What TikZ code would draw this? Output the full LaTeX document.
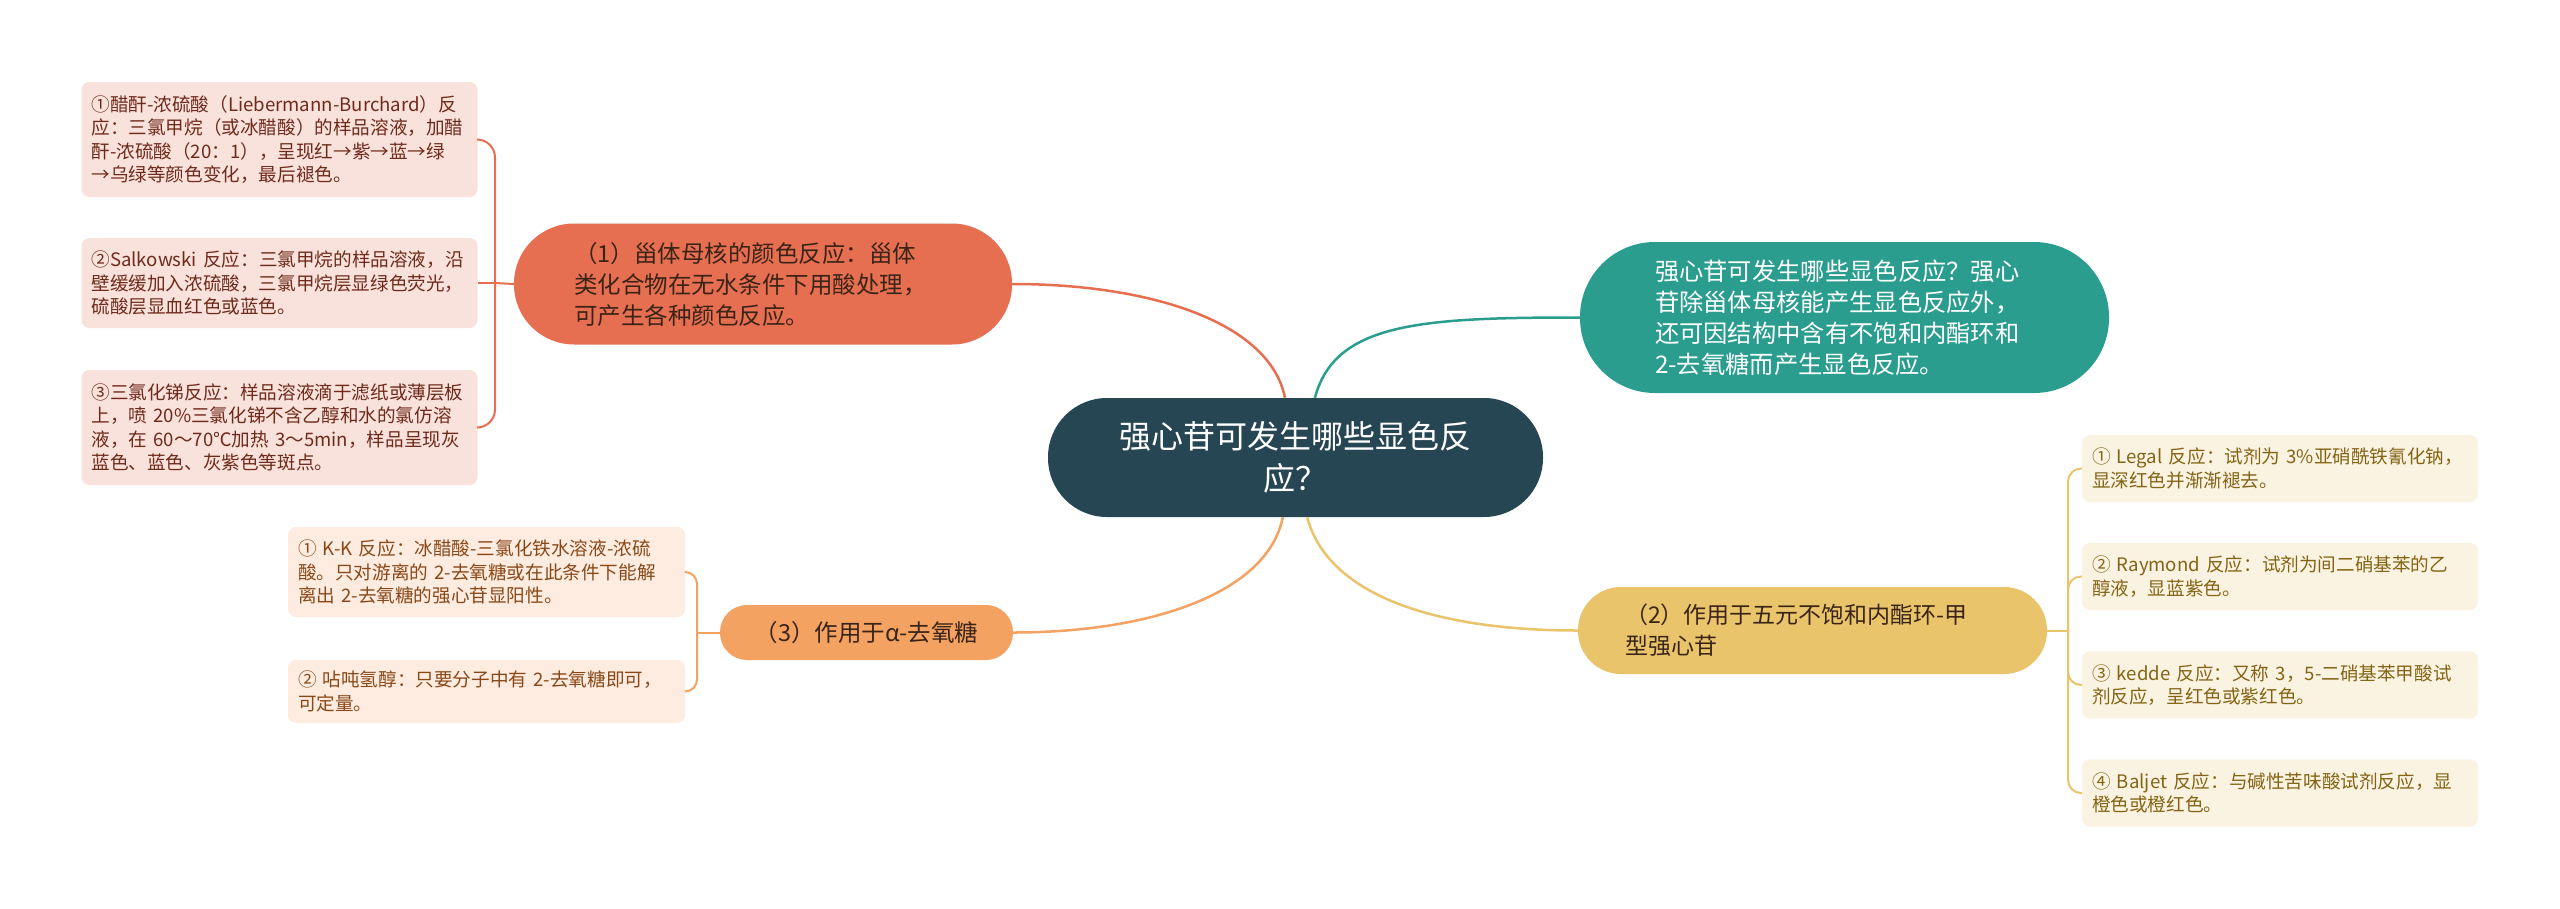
\documentclass[tikz,border=0pt]{standalone}
\usepackage{fontspec}
\setmainfont{Noto Sans CJK SC}
\usepackage{tikz}

\definecolor{rootblue}{HTML}{264653}
\definecolor{mmteal}{HTML}{2A9D8F}
\definecolor{mmyellow}{HTML}{E9C46A}
\definecolor{mmorange}{HTML}{F4A261}
\definecolor{mmcoral}{HTML}{E76F51}
\definecolor{coralleaf}{HTML}{FAE2DC}
\definecolor{coraltext}{HTML}{6E2A1A}
\definecolor{orangeleaf}{HTML}{FDECDF}
\definecolor{orangetext}{HTML}{8A4818}
\definecolor{yellowleaf}{HTML}{FBF3E2}
\definecolor{yellowtext}{HTML}{846414}
\definecolor{branchtext}{HTML}{3A2418}

\begin{document}
\begin{tikzpicture}[x=1pt,y=-1pt,
  leaf/.style={rounded corners=8pt, inner xsep=10pt, inner ysep=0pt, text width=376pt,
    minimum height=#1, align=left, font=\fontsize{18.6}{23.4}\selectfont},
  branch/.style={inner ysep=0pt, align=left, text=branchtext},
  link/.style={line width=2.5pt},
  twig/.style={line width=2pt}]

\fill[white] (0,0) rectangle (2560,908);
\useasboundingbox (0,0) rectangle (2560,908);

\node[fill=rootblue, text=white, rounded corners=59pt, minimum width=495pt, minimum height=119pt,
  inner sep=0pt, align=center, font=\fontsize{32}{42}\selectfont] (q) at (1295.5,457.5)
  {强心苷可发生哪些显色反\\应？};

\node[fill=mmteal, text=white, rounded corners=75pt, text width=379pt, inner xsep=75pt, inner ysep=0pt,
  minimum height=151pt, align=left, font=\fontsize{24.3}{31}\selectfont] (t) at (1844.5,317.5)
  {强心苷可发生哪些显色反应？强心\\苷除甾体母核能产生显色反应外，\\还可因结构中含有不饱和内酯环和\\2-去氧糖而产生显色反应。};

\node[branch, fill=mmcoral, rounded corners=60pt, text width=378pt, inner xsep=60pt, minimum height=121pt,
  font=\fontsize{23.5}{31}\selectfont] (b1) at (763,284)
  {（1）甾体母核的颜色反应：甾体\\类化合物在无水条件下用酸处理，\\可产生各种颜色反应。};
\node[branch, fill=mmyellow, rounded corners=43pt, text width=375pt, inner xsep=47pt, minimum height=87pt,
  font=\fontsize{23}{31}\selectfont] (b2) at (1812.5,630.5)
  {（2）作用于五元不饱和内酯环-甲\\型强心苷};
\node[branch, fill=mmorange, rounded corners=27pt, minimum width=293pt, minimum height=55pt, align=center,
  font=\fontsize{23.5}{30}\selectfont] (b3) at (866.5,632.5)
  {（3）作用于α-去氧糖};

\node[leaf=115pt, fill=coralleaf, text=coraltext] (l1) at (279.5,139.5)
  {①醋酐-浓硫酸（Liebermann-Burchard）反\\应：三氯甲烷（或冰醋酸）的样品溶液，加醋\\酐-浓硫酸（20：1），呈现红→紫→蓝→绿\\→乌绿等颜色变化，最后褪色。};
\node[leaf=90pt, fill=coralleaf, text=coraltext] (l2) at (279.5,283)
  {②Salkowski 反应：三氯甲烷的样品溶液，沿\\壁缓缓加入浓硫酸，三氯甲烷层显绿色荧光，\\硫酸层显血红色或蓝色。};
\node[leaf=115pt, fill=coralleaf, text=coraltext] (l3) at (279.5,427.5)
  {③三氯化锑反应：样品溶液滴于滤纸或薄层板\\上，喷 20\%三氯化锑不含乙醇和水的氯仿溶\\液，在 60～70℃加热 3～5min，样品呈现灰\\蓝色、蓝色、灰紫色等斑点。};

\node[leaf=90pt, fill=orangeleaf, text=orangetext, text width=377pt] (k1) at (486.5,572)
  {① K-K 反应：冰醋酸-三氯化铁水溶液-浓硫\\酸。只对游离的 2-去氧糖或在此条件下能解\\离出 2-去氧糖的强心苷显阳性。};
\node[leaf=63pt, fill=orangeleaf, text=orangetext, text width=377pt] (k2) at (486.5,691.5)
  {② 呫吨氢醇：只要分子中有 2-去氧糖即可，\\可定量。};

\node[leaf=67pt, fill=yellowleaf, text=yellowtext] (r1) at (2280,468.5)
  {① Legal 反应：试剂为 3\%亚硝酰铁氰化钠，\\显深红色并渐渐褪去。};
\node[leaf=67pt, fill=yellowleaf, text=yellowtext] (r2) at (2280,576.5)
  {② Raymond 反应：试剂为间二硝基苯的乙\\醇液，显蓝紫色。};
\node[leaf=67pt, fill=yellowleaf, text=yellowtext] (r3) at (2280,685)
  {③ kedde 反应：又称 3，5-二硝基苯甲酸试\\剂反应，呈红色或紫红色。};
\node[leaf=67pt, fill=yellowleaf, text=yellowtext] (r4) at (2280,793)
  {④ Baljet 反应：与碱性苦味酸试剂反应，显\\橙色或橙红色。};

\draw[link, mmteal] (q.72) .. controls +(20,-75) and +(-160,0) .. (t.west);
\draw[link, mmcoral] (q.100) .. controls +(-15,-75) and +(140,0) .. (b1.east);
\draw[link, mmorange] (q.258) .. controls +(-15,75) and +(140,0) .. (b3.east);
\draw[link, mmyellow] (q.281) .. controls +(20,75) and +(-150,0) .. (b2.west);

\coordinate (j1) at (495,283);
\draw[twig, mmcoral] (b1.west) -- (j1);
\draw[twig, mmcoral, rounded corners=18pt] (j1) |- (l1.east);
\draw[twig, mmcoral] (j1) -- (l2.east);
\draw[twig, mmcoral, rounded corners=18pt] (j1) |- (l3.east);

\coordinate (j3) at (697,632.5);
\draw[twig, mmorange] (b3.west) -- (j3);
\draw[twig, mmorange, rounded corners=12pt] (j3) |- (k1.east);
\draw[twig, mmorange, rounded corners=12pt] (j3) |- (k2.east);

\coordinate (j2) at (2068,630.5);
\draw[twig, mmyellow] (b2.east) -- (j2);
\draw[twig, mmyellow, rounded corners=13pt] (j2) |- (r1.west);
\draw[twig, mmyellow, rounded corners=13pt] (j2) |- (r2.west);
\draw[twig, mmyellow, rounded corners=13pt] (j2) |- (r3.west);
\draw[twig, mmyellow, rounded corners=13pt] (j2) |- (r4.west);
\end{tikzpicture}
\end{document}
